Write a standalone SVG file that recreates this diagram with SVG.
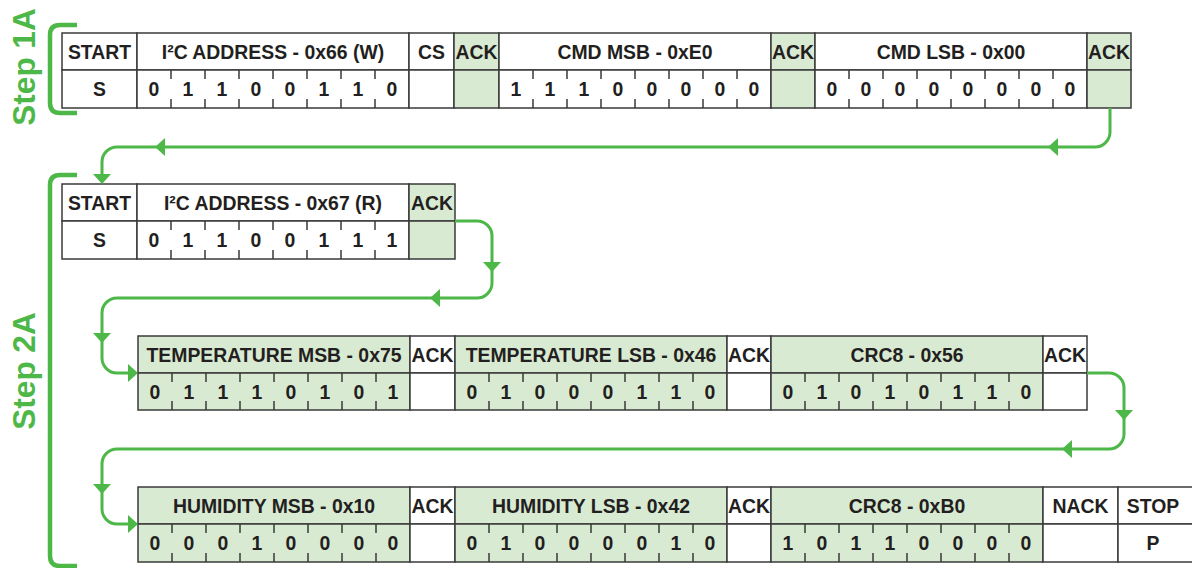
<svg xmlns="http://www.w3.org/2000/svg" width="1192" height="568" viewBox="0 0 1192 568">
<style>
.c{fill:#fff;stroke:#3a3a3a;stroke-width:1.5}
.g{fill:#d9ead3;stroke:#3a3a3a;stroke-width:1.5}
.t{font-family:"Liberation Sans",Arial,sans-serif;font-weight:bold;font-size:19.4px;fill:#231f20;text-anchor:middle}
.k{stroke:#3a3a3a;stroke-width:1.5}
.ln{fill:none;stroke:#4db848;stroke-width:3}
.br{fill:none;stroke:#4db848;stroke-width:4.5}
.ah{fill:#4db848}
.st{font-family:"Liberation Sans",Arial,sans-serif;font-weight:bold;font-size:31.5px;fill:#4db848;text-anchor:middle}
</style>
<defs>
<polygon id="ar" points="0,0 -10,-9 -10,9"/>
</defs>
<rect width="1192" height="568" fill="#fff"/>

<g id="step1a">
<path class="br" d="M77,25 H60 Q50,25 50,35 V103 Q50,113 60,113 H77"/>
<text class="st" transform="translate(35,67) rotate(-90)">Step 1A</text>
</g>
<g id="step2a">
<path class="br" d="M77,175 H60 Q50,175 50,185 V556 Q50,566 60,566 H77"/>
<text class="st" transform="translate(35,371) rotate(-90)">Step 2A</text>
</g>

<!-- Row 1 -->
<g id="r1-start">
<rect class="c" x="62" y="33" width="75" height="37"/><rect class="c" x="62" y="70" width="75" height="38"/>
<text class="t" x="99.5" y="58.5">START</text><text class="t" x="99.5" y="96">S</text>
</g>
<g id="r1-addr">
<rect class="c" x="137" y="33" width="272" height="37"/><rect class="c" x="137" y="70" width="272" height="38"/>
<text class="t" x="273" y="58.5">I²C ADDRESS - 0x66 (W)</text>
<path class="k" d="M171,70v9M171,108v-9M205,70v9M205,108v-9M239,70v9M239,108v-9M273,70v9M273,108v-9M307,70v9M307,108v-9M341,70v9M341,108v-9M375,70v9M375,108v-9"/>
<text class="t" x="154" y="96">0</text><text class="t" x="188" y="96">1</text><text class="t" x="222" y="96">1</text><text class="t" x="256" y="96">0</text><text class="t" x="290" y="96">0</text><text class="t" x="324" y="96">1</text><text class="t" x="358" y="96">1</text><text class="t" x="392" y="96">0</text>
</g>
<g id="r1-cs">
<rect class="c" x="409" y="33" width="45" height="37"/><rect class="c" x="409" y="70" width="45" height="38"/>
<text class="t" x="431.5" y="58.5">CS</text>
</g>
<g id="r1-ack1">
<rect class="g" x="454" y="33" width="45" height="37"/><rect class="g" x="454" y="70" width="45" height="38"/>
<text class="t" x="476.5" y="58.5">ACK</text>
</g>
<g id="r1-cmdmsb">
<rect class="c" x="499" y="33" width="272" height="37"/><rect class="c" x="499" y="70" width="272" height="38"/>
<text class="t" x="635" y="58.5">CMD MSB - 0xE0</text>
<path class="k" d="M533,70v9M533,108v-9M567,70v9M567,108v-9M601,70v9M601,108v-9M635,70v9M635,108v-9M669,70v9M669,108v-9M703,70v9M703,108v-9M737,70v9M737,108v-9"/>
<text class="t" x="516" y="96">1</text><text class="t" x="550" y="96">1</text><text class="t" x="584" y="96">1</text><text class="t" x="618" y="96">0</text><text class="t" x="652" y="96">0</text><text class="t" x="686" y="96">0</text><text class="t" x="720" y="96">0</text><text class="t" x="754" y="96">0</text>
</g>
<g id="r1-ack2">
<rect class="g" x="771" y="33" width="44" height="37"/><rect class="g" x="771" y="70" width="44" height="38"/>
<text class="t" x="793" y="58.5">ACK</text>
</g>
<g id="r1-cmdlsb">
<rect class="c" x="815" y="33" width="272" height="37"/><rect class="c" x="815" y="70" width="272" height="38"/>
<text class="t" x="951" y="58.5">CMD LSB - 0x00</text>
<path class="k" d="M849,70v9M849,108v-9M883,70v9M883,108v-9M917,70v9M917,108v-9M951,70v9M951,108v-9M985,70v9M985,108v-9M1019,70v9M1019,108v-9M1053,70v9M1053,108v-9"/>
<text class="t" x="832" y="96">0</text><text class="t" x="866" y="96">0</text><text class="t" x="900" y="96">0</text><text class="t" x="934" y="96">0</text><text class="t" x="968" y="96">0</text><text class="t" x="1002" y="96">0</text><text class="t" x="1036" y="96">0</text><text class="t" x="1070" y="96">0</text>
</g>
<g id="r1-ack3">
<rect class="g" x="1087" y="33" width="44" height="37"/><rect class="g" x="1087" y="70" width="44" height="38"/>
<text class="t" x="1109" y="58.5">ACK</text>
</g>

<!-- Row 2 -->
<g id="r2-start">
<rect class="c" x="62" y="184" width="75" height="37"/><rect class="c" x="62" y="221" width="75" height="38"/>
<text class="t" x="99.5" y="209.5">START</text><text class="t" x="99.5" y="247">S</text>
</g>
<g id="r2-addr">
<rect class="c" x="137" y="184" width="272" height="37"/><rect class="c" x="137" y="221" width="272" height="38"/>
<text class="t" x="273" y="209.5">I²C ADDRESS - 0x67 (R)</text>
<path class="k" d="M171,221v9M171,259v-9M205,221v9M205,259v-9M239,221v9M239,259v-9M273,221v9M273,259v-9M307,221v9M307,259v-9M341,221v9M341,259v-9M375,221v9M375,259v-9"/>
<text class="t" x="154" y="247">0</text><text class="t" x="188" y="247">1</text><text class="t" x="222" y="247">1</text><text class="t" x="256" y="247">0</text><text class="t" x="290" y="247">0</text><text class="t" x="324" y="247">1</text><text class="t" x="358" y="247">1</text><text class="t" x="392" y="247">1</text>
</g>
<g id="r2-ack">
<rect class="g" x="409" y="184" width="46" height="37"/><rect class="g" x="409" y="221" width="46" height="38"/>
<text class="t" x="432" y="209.5">ACK</text>
</g>

<!-- Row 3 -->
<g id="r3-tmsb">
<rect class="g" x="138" y="336" width="272" height="37"/><rect class="g" x="138" y="373" width="272" height="37"/>
<text class="t" x="274" y="361.5">TEMPERATURE MSB - 0x75</text>
<path class="k" d="M172,373v9M172,410v-9M206,373v9M206,410v-9M240,373v9M240,410v-9M274,373v9M274,410v-9M308,373v9M308,410v-9M342,373v9M342,410v-9M376,373v9M376,410v-9"/>
<text class="t" x="155" y="398.5">0</text><text class="t" x="189" y="398.5">1</text><text class="t" x="223" y="398.5">1</text><text class="t" x="257" y="398.5">1</text><text class="t" x="291" y="398.5">0</text><text class="t" x="325" y="398.5">1</text><text class="t" x="359" y="398.5">0</text><text class="t" x="393" y="398.5">1</text>
</g>
<g id="r3-ack1">
<rect class="c" x="410" y="336" width="45" height="37"/><rect class="c" x="410" y="373" width="45" height="37"/>
<text class="t" x="432.5" y="361.5">ACK</text>
</g>
<g id="r3-tlsb">
<rect class="g" x="455" y="336" width="272" height="37"/><rect class="g" x="455" y="373" width="272" height="37"/>
<text class="t" x="591" y="361.5">TEMPERATURE LSB - 0x46</text>
<path class="k" d="M489,373v9M489,410v-9M523,373v9M523,410v-9M557,373v9M557,410v-9M591,373v9M591,410v-9M625,373v9M625,410v-9M659,373v9M659,410v-9M693,373v9M693,410v-9"/>
<text class="t" x="472" y="398.5">0</text><text class="t" x="506" y="398.5">1</text><text class="t" x="540" y="398.5">0</text><text class="t" x="574" y="398.5">0</text><text class="t" x="608" y="398.5">0</text><text class="t" x="642" y="398.5">1</text><text class="t" x="676" y="398.5">1</text><text class="t" x="710" y="398.5">0</text>
</g>
<g id="r3-ack2">
<rect class="c" x="727" y="336" width="44" height="37"/><rect class="c" x="727" y="373" width="44" height="37"/>
<text class="t" x="749" y="361.5">ACK</text>
</g>
<g id="r3-crc">
<rect class="g" x="771" y="336" width="272" height="37"/><rect class="g" x="771" y="373" width="272" height="37"/>
<text class="t" x="907" y="361.5">CRC8 - 0x56</text>
<path class="k" d="M805,373v9M805,410v-9M839,373v9M839,410v-9M873,373v9M873,410v-9M907,373v9M907,410v-9M941,373v9M941,410v-9M975,373v9M975,410v-9M1009,373v9M1009,410v-9"/>
<text class="t" x="788" y="398.5">0</text><text class="t" x="822" y="398.5">1</text><text class="t" x="856" y="398.5">0</text><text class="t" x="890" y="398.5">1</text><text class="t" x="924" y="398.5">0</text><text class="t" x="958" y="398.5">1</text><text class="t" x="992" y="398.5">1</text><text class="t" x="1026" y="398.5">0</text>
</g>
<g id="r3-ack3">
<rect class="c" x="1043" y="336" width="44" height="37"/><rect class="c" x="1043" y="373" width="44" height="37"/>
<text class="t" x="1065" y="361.5">ACK</text>
</g>

<!-- Row 4 -->
<g id="r4-hmsb">
<rect class="g" x="138" y="487" width="272" height="37"/><rect class="g" x="138" y="524" width="272" height="38"/>
<text class="t" x="274" y="512.5">HUMIDITY MSB - 0x10</text>
<path class="k" d="M172,524v9M172,562v-9M206,524v9M206,562v-9M240,524v9M240,562v-9M274,524v9M274,562v-9M308,524v9M308,562v-9M342,524v9M342,562v-9M376,524v9M376,562v-9"/>
<text class="t" x="155" y="550">0</text><text class="t" x="189" y="550">0</text><text class="t" x="223" y="550">0</text><text class="t" x="257" y="550">1</text><text class="t" x="291" y="550">0</text><text class="t" x="325" y="550">0</text><text class="t" x="359" y="550">0</text><text class="t" x="393" y="550">0</text>
</g>
<g id="r4-ack1">
<rect class="c" x="410" y="487" width="45" height="37"/><rect class="c" x="410" y="524" width="45" height="38"/>
<text class="t" x="432.5" y="512.5">ACK</text>
</g>
<g id="r4-hlsb">
<rect class="g" x="455" y="487" width="272" height="37"/><rect class="g" x="455" y="524" width="272" height="38"/>
<text class="t" x="591" y="512.5">HUMIDITY LSB - 0x42</text>
<path class="k" d="M489,524v9M489,562v-9M523,524v9M523,562v-9M557,524v9M557,562v-9M591,524v9M591,562v-9M625,524v9M625,562v-9M659,524v9M659,562v-9M693,524v9M693,562v-9"/>
<text class="t" x="472" y="550">0</text><text class="t" x="506" y="550">1</text><text class="t" x="540" y="550">0</text><text class="t" x="574" y="550">0</text><text class="t" x="608" y="550">0</text><text class="t" x="642" y="550">0</text><text class="t" x="676" y="550">1</text><text class="t" x="710" y="550">0</text>
</g>
<g id="r4-ack2">
<rect class="c" x="727" y="487" width="44" height="37"/><rect class="c" x="727" y="524" width="44" height="38"/>
<text class="t" x="749" y="512.5">ACK</text>
</g>
<g id="r4-crc">
<rect class="g" x="771" y="487" width="272" height="37"/><rect class="g" x="771" y="524" width="272" height="38"/>
<text class="t" x="907" y="512.5">CRC8 - 0xB0</text>
<path class="k" d="M805,524v9M805,562v-9M839,524v9M839,562v-9M873,524v9M873,562v-9M907,524v9M907,562v-9M941,524v9M941,562v-9M975,524v9M975,562v-9M1009,524v9M1009,562v-9"/>
<text class="t" x="788" y="550">1</text><text class="t" x="822" y="550">0</text><text class="t" x="856" y="550">1</text><text class="t" x="890" y="550">1</text><text class="t" x="924" y="550">0</text><text class="t" x="958" y="550">0</text><text class="t" x="992" y="550">0</text><text class="t" x="1026" y="550">0</text>
</g>
<g id="r4-nack">
<rect class="c" x="1043" y="487" width="75" height="37"/><rect class="c" x="1043" y="524" width="75" height="38"/>
<text class="t" x="1080.5" y="512.5">NACK</text>
</g>
<g id="r4-stop">
<rect class="c" x="1118" y="487" width="76" height="37"/><rect class="c" x="1118" y="524" width="76" height="38"/>
<text class="t" x="1153" y="512.5">STOP</text><text class="t" x="1153" y="550">P</text>
</g>

<g id="connectors">
<path class="ln" d="M1110,108 V132 A15,15 0 0 1 1095,147 H117 A15,15 0 0 0 102,162 V176"/>
<use href="#ar" class="ah" transform="translate(1048,147) rotate(180)"/>
<use href="#ar" class="ah" transform="translate(155,147) rotate(180)"/>
<use href="#ar" class="ah" transform="translate(102,184) rotate(90)"/>

<path class="ln" d="M455,221 H477 A15,15 0 0 1 492,236 V283 A15,15 0 0 1 477,298 H117 A15,15 0 0 0 102,313 V358 A15,15 0 0 0 117,373 H130"/>
<use href="#ar" class="ah" transform="translate(492,272) rotate(90)"/>
<use href="#ar" class="ah" transform="translate(430,298) rotate(180)"/>
<use href="#ar" class="ah" transform="translate(102,343) rotate(90)"/>
<use href="#ar" class="ah" transform="translate(138,373)"/>

<path class="ln" d="M1087,373 H1109 A15,15 0 0 1 1124,388 V434 A15,15 0 0 1 1109,449 H117 A15,15 0 0 0 102,464 V509 A15,15 0 0 0 117,524 H130"/>
<use href="#ar" class="ah" transform="translate(1124,420) rotate(90)"/>
<use href="#ar" class="ah" transform="translate(1062,449) rotate(180)"/>
<use href="#ar" class="ah" transform="translate(102,494) rotate(90)"/>
<use href="#ar" class="ah" transform="translate(138,524)"/>
</g>
</svg>
